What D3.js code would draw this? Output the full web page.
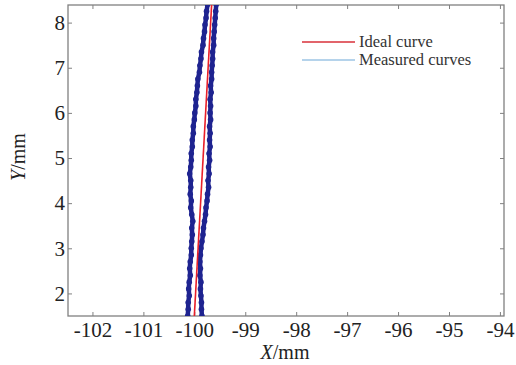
<!DOCTYPE html>
<html>
<head>
<meta charset="utf-8">
<script src="https://cdn.jsdelivr.net/npm/d3@7"></script>
<style>
    body { margin: 0; background: #fff; }
    svg text { font-family: "Liberation Serif", "Times New Roman", serif; }
</style>
</head>
<body>
<svg id="mainSvg" width="516" height="365"></svg>
<script>
// Chart data
let xTicks = [-102, -101, -100, -99, -98, -97, -96, -95, -94];
let yTicks = [2, 3, 4, 5, 6, 7, 8];

let idealY = [1.5, 8.4];
let idealX = [-100.0, -99.66];

let measuredY = [1.5, 1.65, 1.8, 1.95, 2.1, 2.25, 2.4, 2.55, 2.7, 2.85, 3.0, 3.15, 3.3, 3.45, 3.6, 3.75,
    3.9, 4.05, 4.2, 4.35, 4.5, 4.65, 4.8, 4.95, 5.1, 5.25, 5.4, 5.55, 5.7, 5.85, 6.0, 6.15,
    6.3, 6.45, 6.6, 6.75, 6.9, 7.05, 7.2, 7.35, 7.5, 7.65, 7.8, 7.95, 8.1, 8.25, 8.4];

let leftX = [-100.13, -100.12, -100.12, -100.10, -100.11, -100.10, -100.08, -100.09, -100.08, -100.06,
    -100.06, -100.05, -100.04, -100.05, -100.03, -100.05, -100.07, -100.06, -100.08, -100.07,
    -100.07, -100.09, -100.07, -100.06, -100.06, -100.04, -100.04, -100.02, -100.02, -100.00,
    -99.99, -99.97, -99.97, -99.95, -99.94, -99.93, -99.90, -99.89, -99.87, -99.86,
    -99.83, -99.82, -99.80, -99.79, -99.77, -99.76, -99.74];

let rightX = [-99.85, -99.86, -99.86, -99.87, -99.88, -99.87, -99.89, -99.88, -99.89, -99.88,
    -99.87, -99.85, -99.83, -99.82, -99.80, -99.78, -99.77, -99.75, -99.74, -99.72,
    -99.73, -99.71, -99.72, -99.70, -99.71, -99.69, -99.70, -99.69, -99.70, -99.68,
    -99.69, -99.68, -99.69, -99.67, -99.68, -99.66, -99.66, -99.65, -99.64, -99.64,
    -99.62, -99.62, -99.61, -99.60, -99.59, -99.58, -99.57];

let legendLabels = ["Ideal curve", "Measured curves"];

// Layout
let svg = d3.select("#mainSvg");
let plotLeft = 68, plotRight = 504, plotTop = 5, plotBottom = 316;
let axisColor = "#808080";
let textColor = "#222";
let serif = "Liberation Serif, Times New Roman, serif";
let fmt = (d) => String(d);

let x = d3.scaleLinear().domain([-102.48, -93.92]).range([plotLeft, plotRight]);
let y = d3.scaleLinear().domain([1.5, 8.39]).range([plotBottom, plotTop]);

svg.append("defs").append("clipPath").attr("id", "plotClip")
    .append("rect")
    .attr("x", plotLeft).attr("y", plotTop)
    .attr("width", plotRight - plotLeft).attr("height", plotBottom - plotTop);

// Box and axes
let axes = svg.append("g");

let drawAxis = function (axis, transform) {
    let g = axes.append("g").attr("transform", transform).call(axis);
    g.attr("font-family", serif).attr("font-size", 21);
    g.select(".domain").remove();
    g.selectAll("line").attr("stroke", axisColor);
    g.selectAll("text").attr("fill", textColor);
    return g;
};

drawAxis(d3.axisBottom(x).tickValues(xTicks).tickSize(-4).tickPadding(6).tickFormat(fmt), `translate(0,${plotBottom})`);
drawAxis(d3.axisTop(x).tickValues(xTicks).tickSize(-4).tickFormat(""), `translate(0,${plotTop})`);
drawAxis(d3.axisLeft(y).tickValues(yTicks).tickSize(-4).tickPadding(3).tickFormat(fmt), `translate(${plotLeft},0)`);
drawAxis(d3.axisRight(y).tickValues(yTicks).tickSize(-4).tickFormat(""), `translate(${plotRight},0)`);

axes.append("rect")
    .attr("x", plotLeft).attr("y", plotTop)
    .attr("width", plotRight - plotLeft).attr("height", plotBottom - plotTop)
    .attr("fill", "none")
    .attr("stroke", axisColor)
    .attr("stroke-width", 1.3);

// Axis titles
let xTitle = svg.append("text")
    .attr("x", 285)
    .attr("y", 359)
    .attr("text-anchor", "middle")
    .attr("fill", textColor)
    .attr("font-size", 20);
xTitle.append("tspan").attr("font-style", "italic").text("X");
xTitle.append("tspan").text("/mm");

let yTitle = svg.append("text")
    .attr("transform", "translate(25,157) rotate(-90)")
    .attr("text-anchor", "middle")
    .attr("fill", textColor)
    .attr("font-size", 20);
yTitle.append("tspan").attr("font-style", "italic").text("Y");
yTitle.append("tspan").text("/mm");

// Curves
let plot = svg.append("g").attr("clip-path", "url(#plotClip)");

let line = d3.line().x((d) => x(d[0])).y((d) => y(d[1]));

let measured = [
    measuredY.map((v, i) => [leftX[i], v]),
    measuredY.map((v, i) => [rightX[i], v]),
];

measured.forEach(function (pts) {
    plot.append("path")
        .datum(pts)
        .attr("d", line)
        .attr("fill", "none")
        .attr("stroke", "#1e2390")
        .attr("stroke-width", 4.5)
        .attr("stroke-linejoin", "round");

    plot.append("g")
        .selectAll("circle")
        .data(pts)
        .join("circle")
        .attr("cx", (d) => x(d[0]))
        .attr("cy", (d) => y(d[1]))
        .attr("r", 2.8)
        .attr("fill", "#1e2390");
});

plot.append("path")
    .datum(idealY.map((v, i) => [idealX[i], v]))
    .attr("d", line)
    .attr("fill", "none")
    .attr("stroke", "#e8202a")
    .attr("stroke-width", 1.6);

// Legend
let legendColors = ["#d8303a", "#9cc4e4"];
let legend = svg.append("g")
    .selectAll("g")
    .data(legendLabels)
    .join("g")
    .attr("transform", (d, i) => `translate(302,${42 + i * 18})`);

legend.append("line")
    .attr("x1", 0).attr("x2", 53)
    .attr("y1", 0).attr("y2", 0)
    .attr("stroke", (d, i) => legendColors[i])
    .attr("stroke-width", 1.3);

legend.append("text")
    .attr("x", 57)
    .attr("y", 5)
    .attr("fill", "#333")
    .attr("font-size", 16.5)
    .text((d) => d);
</script>
</body>
</html>
